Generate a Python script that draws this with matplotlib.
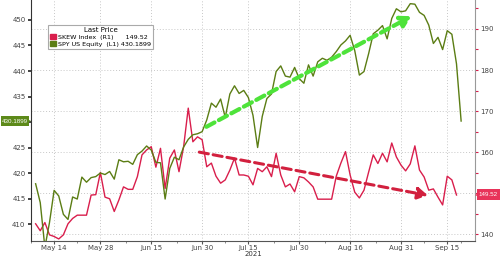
import numpy as np
import pandas as pd
from matplotlib import pyplot as plt
import matplotlib.patches as patches
import matplotlib.transforms as mtransforms

# trading days, May 10 - Sep 20 2021 (US holidays removed)
holidays = ['2021-05-31', '2021-07-05', '2021-09-06']
days = pd.bdate_range('2021-05-10', '2021-09-20')
days = days[~days.isin(pd.to_datetime(holidays))]

# SPY US Equity (left axis)
spy = [417.9, 414.2, 405.4, 410.3, 416.6, 415.5, 411.9, 410.9, 415.3, 414.9,
       419.2, 418.2, 419.1, 419.3, 420.0, 419.7, 420.3, 418.8, 422.6, 422.2,
       422.3, 421.7, 423.6, 424.3, 425.3, 424.5, 422.1, 422.0, 414.9, 420.9,
       423.1, 422.6, 425.1, 426.6, 427.5, 427.7, 428.1, 430.4, 433.7, 432.9,
       434.5, 430.9, 435.5, 437.1, 435.6, 436.2, 434.8, 431.3, 425.0, 431.1,
       434.6, 435.5, 439.9, 441.0, 439.0, 438.8, 440.7, 438.5, 437.6, 441.2,
       439.0, 441.8, 442.5, 442.1, 442.7, 443.8, 445.1, 445.9, 447.0, 444.0,
       439.2, 439.9, 443.4, 447.3, 448.0, 448.9, 446.3, 450.3, 452.2, 451.6,
       451.8, 453.2, 453.1, 451.5, 450.9, 449.0, 445.4, 446.6, 444.2, 447.9,
       447.2, 441.4, 430.1899]

# SKEW Index (right axis), ends Sep 17
skew = [142.5, 140.8, 142.8, 139.8, 139.4, 138.8, 139.8, 142.5, 143.8, 144.6,
        144.6, 144.6, 149.5, 149.6, 155.0, 149.0, 148.6, 145.5, 148.3, 151.5,
        150.9, 150.9, 154.0, 159.3, 160.5, 161.3, 156.3, 160.9, 151.1, 158.5,
        160.5, 155.2, 161.3, 170.7, 162.5, 163.7, 163.0, 156.4, 157.3, 154.1,
        152.4, 153.2, 155.6, 158.5, 154.4, 154.4, 154.1, 152.0, 156.0, 155.2,
        156.4, 154.0, 159.7, 154.4, 151.5, 152.2, 150.3, 154.0, 153.7, 152.7,
        151.5, 148.5, 148.5, 148.5, 148.5, 154.1, 157.3, 160.1, 154.4, 150.2,
        148.8, 150.7, 155.1, 159.3, 157.2, 159.7, 157.6, 162.2, 158.8, 156.8,
        155.4, 157.1, 161.5, 155.6, 153.9, 150.7, 151.0, 149.0, 147.1, 154.1,
        153.2, 149.52]

tick_dates = ['2021-05-14', '2021-05-28', '2021-06-15', '2021-06-30', '2021-07-15',
              '2021-07-30', '2021-08-16', '2021-08-31', '2021-09-15']
tick_labels = ['May 14', 'May 28', 'Jun 15', 'Jun 30', 'Jul 15',
               'Jul 30', 'Aug 16', 'Aug 31', 'Sep 15']
# labels hidden behind the last-price tags
left_ticks = [410, 415, 420, 425, 430, 435, 440, 445, 450]
left_labels = ['410', '415', '420', '425', '', '435', '440', '445', '450']
right_ticks = [140, 150, 160, 170, 180, 190]
right_labels = ['140', '', '160', '170', '180', '190']

# trend arrows (trading-day index, value)
green_arrow = [(36.4, 428.8), (81.8, 451.0)]
red_arrow = [(34.8, 160.1), (85.4, 149.3)]

c_spy = '#5b7d14'
c_skew = '#d91e4c'
c_tag_spy = '#5d8a1a'
c_tag_skew = '#e8335a'
fs = 5

fig = plt.figure(figsize=(5.0, 2.57), dpi=100)
ax2 = fig.add_axes([0.062, 0.064, 0.888, 0.936])
ax = ax2.twinx()
# left axis on top so the SPY line sits over grid
ax.yaxis.set_label_position('left')
ax.yaxis.tick_left()
ax2.yaxis.tick_right()
ax.set_zorder(ax2.get_zorder() + 1)
ax.patch.set_visible(False)

x_spy = np.arange(len(spy))
x_skew = np.arange(len(skew))
ax2.plot(x_skew, skew, color=c_skew, lw=1.0, zorder=3)
ax.plot(x_spy, spy, color=c_spy, lw=1.0, zorder=3)

ax.set_xlim(0.2, 95.0)
ax.set_ylim(406.76, 453.92)
ax2.set_ylim(138.41, 197.07)

tick_pos = [days.get_loc(pd.Timestamp(d)) for d in tick_dates]
ax2.set_xticks(tick_pos)
ax2.set_xticklabels(tick_labels)
minor_pos = [(a + b) / 2 for a, b in zip(tick_pos[:-1], tick_pos[1:])]
minor_pos = [tick_pos[0] - (tick_pos[1] - tick_pos[0]) / 2] + minor_pos + [tick_pos[-1] + 3]
ax2.set_xticks(minor_pos, minor=True)
ax2.set_xlabel('2021', fontsize=fs, labelpad=0, color='#333333')

ax.set_yticks(left_ticks)
ax.set_yticklabels(left_labels)
ax2.set_yticks(right_ticks)
ax2.set_yticklabels(right_labels)
ax2.set_yticks(np.arange(145, 196, 10), minor=True)

ax2.grid(True, which='major', color='#c8c8c8', linestyle=(0, (1, 2)), lw=0.7)

ax.tick_params(axis='y', labelsize=fs, length=2.5, width=1.2, pad=1.5,
               colors='#222222', labelcolor='#444444')
ax2.tick_params(axis='y', which='both', labelsize=fs, length=2, width=0.8,
                pad=1.5, color=c_skew, labelcolor='#444444')
ax2.tick_params(axis='x', which='major', labelsize=fs, length=2.5, pad=0.5,
                color='#555555', labelcolor='#444444')
ax2.tick_params(axis='x', which='minor', length=1.5, color='#777777')
ax.tick_params(axis='x', bottom=False, labelbottom=False)

for a in (ax, ax2):
    a.spines['top'].set_visible(False)
ax.spines['left'].set_color('#333333')
ax.spines['right'].set_visible(False)
ax.spines['bottom'].set_visible(False)
ax2.spines['left'].set_visible(False)
ax2.spines['right'].set_color('#999999')
ax2.spines['bottom'].set_color('#555555')

# dashed trend arrows
ax.annotate('', xy=green_arrow[1], xytext=green_arrow[0],
            arrowprops=dict(arrowstyle='-|>,head_width=0.35,head_length=0.6',
                            color='#4ee33a', lw=3, linestyle=(0, (2.2, 1.2))),
            zorder=5)
ax2.annotate('', xy=red_arrow[1], xytext=red_arrow[0],
             arrowprops=dict(arrowstyle='-|>,head_width=0.35,head_length=0.6',
                             color='#d2203e', lw=2.2, linestyle=(0, (3, 1.6))),
             zorder=5)

# last price tags: box + small pointer at the spine (pointer under the box)
ax.annotate('%.4f' % spy[-1], xy=(0, spy[-1]), xycoords=('axes fraction', 'data'),
            xytext=(-2.2, 0), textcoords='offset points', ha='right', va='center',
            fontsize=4.5, family='Liberation Sans', color='white',
            annotation_clip=False, zorder=6,
            bbox=dict(boxstyle='square,pad=0.2', mutation_aspect=2.2,
                      fc=c_tag_spy, ec='none'))
tr_l = mtransforms.blended_transform_factory(ax.transAxes, ax.transData)
tr_l = tr_l + mtransforms.ScaledTranslation(-2.75 / 72, 0, fig.dpi_scale_trans)
ax.plot([0], [spy[-1]], marker='>', ms=5.5, mew=0, color=c_tag_spy,
        transform=tr_l, clip_on=False, zorder=5.5)

ax2.annotate('%.2f' % skew[-1], xy=(1, skew[-1]), xycoords=('axes fraction', 'data'),
             xytext=(2.6, 0), textcoords='offset points', ha='left', va='center',
             fontsize=4.5, family='Liberation Sans', color='white',
             annotation_clip=False, zorder=6,
             bbox=dict(boxstyle='square,pad=0.3', mutation_aspect=1.6,
                       fc=c_tag_skew, ec='none'))
tr_r = mtransforms.blended_transform_factory(ax2.transAxes, ax2.transData)
tr_r = tr_r + mtransforms.ScaledTranslation(2.75 / 72, 0, fig.dpi_scale_trans)
ax2.plot([1], [skew[-1]], marker='<', ms=5.5, mew=0, color=c_tag_skew,
         transform=tr_r, clip_on=False, zorder=5.5)

handles = [patches.Patch(fc=c_skew, ec=c_skew), patches.Patch(fc=c_spy, ec=c_spy)]
labels = ['SKEW Index  (R1)      %.2f' % skew[-1],
          'SPY US Equity  (L1) %.4f' % spy[-1]]
leg = ax.legend(handles, labels, title='Last Price', loc='upper left',
                bbox_to_anchor=(0.03, 0.91), fontsize=4.6, title_fontsize=5,
                handlelength=0.9, handleheight=0.9, handletextpad=0.4,
                borderpad=0.35, labelspacing=0.15, frameon=True, fancybox=False,
                edgecolor='#aaaaaa', framealpha=1)
leg.get_frame().set_linewidth(0.8)

fig.savefig('out.png', dpi=100)
